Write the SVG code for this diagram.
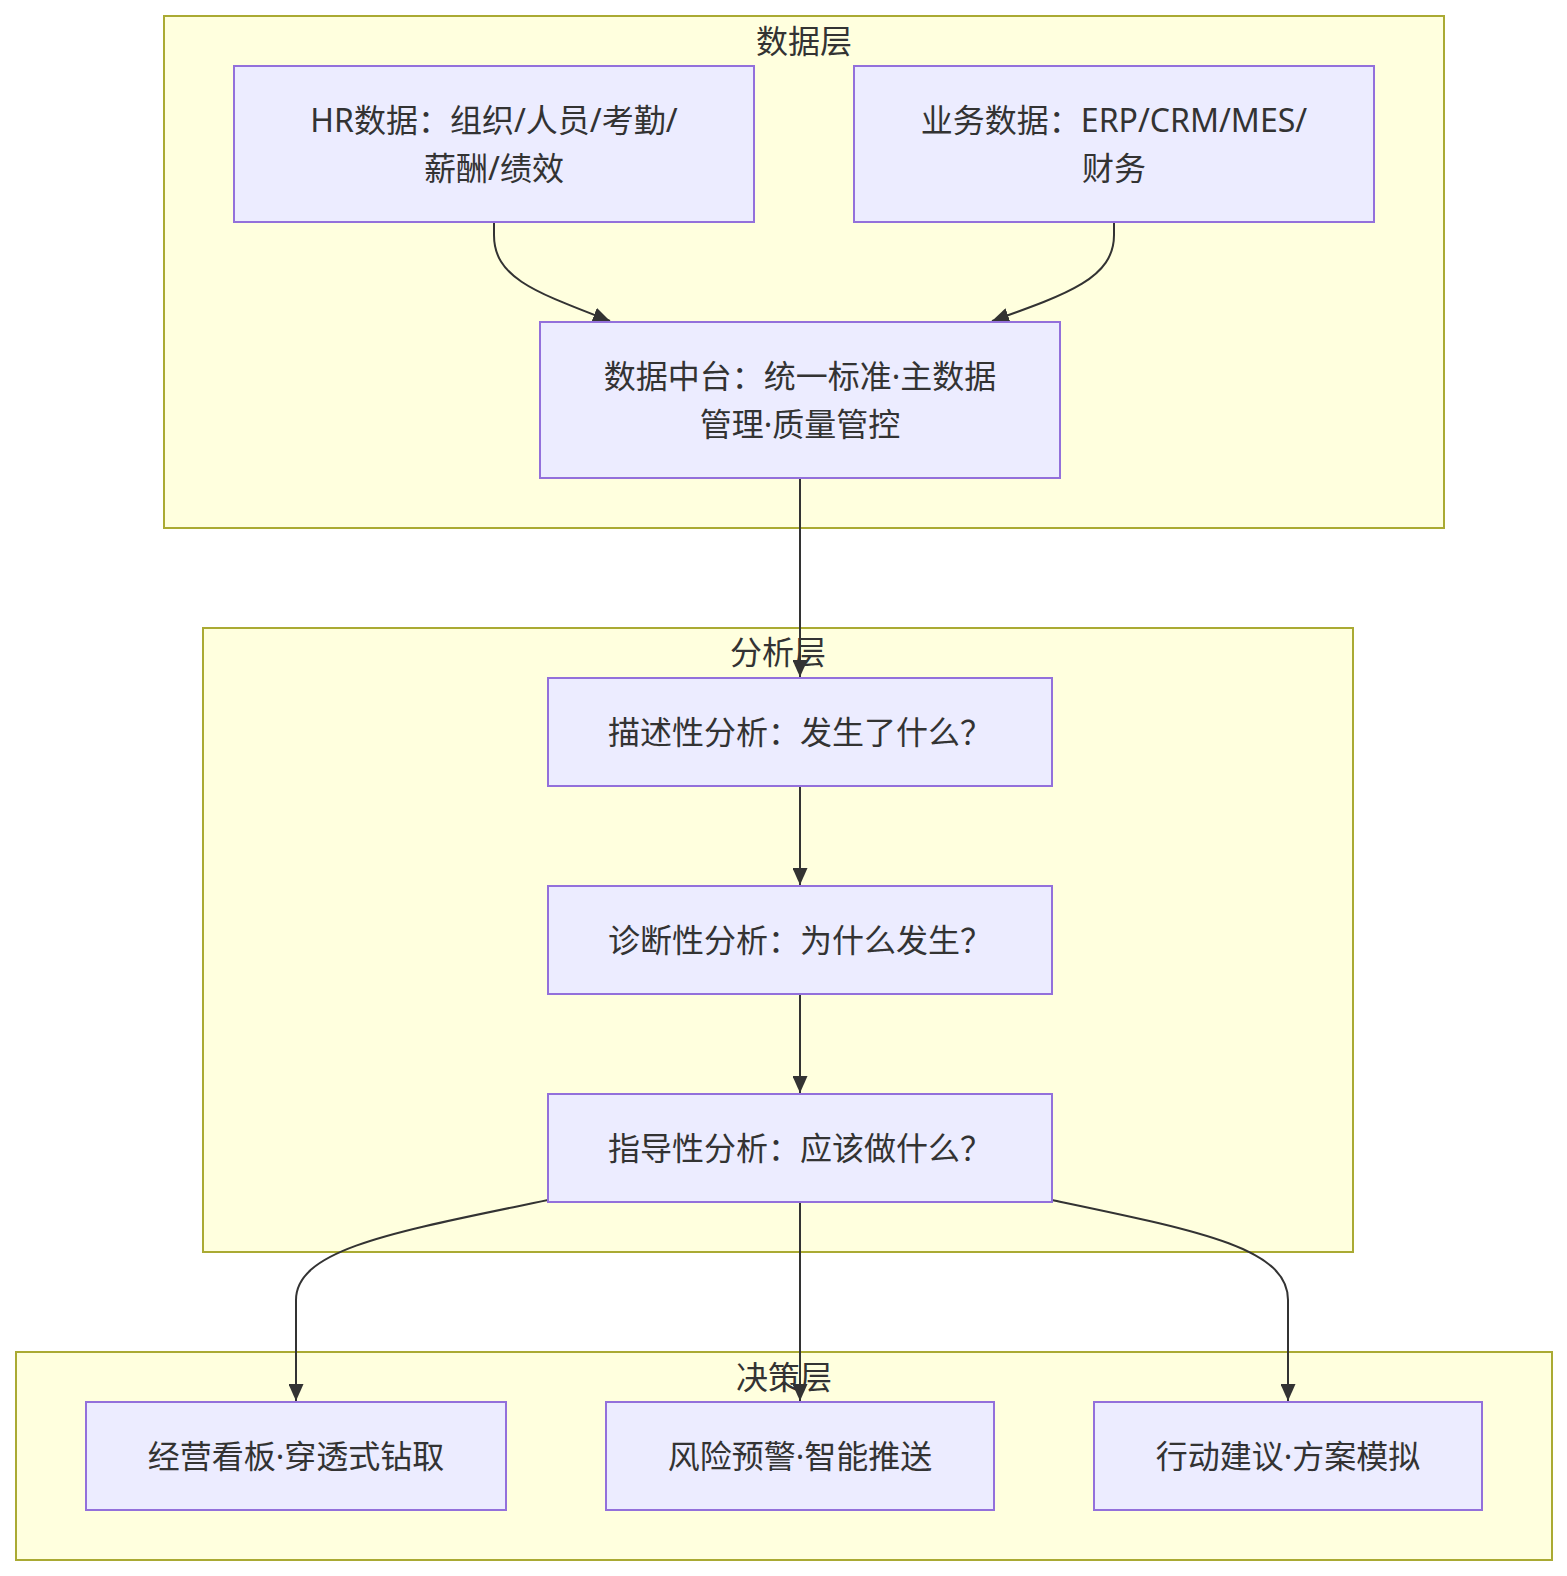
<svg xmlns="http://www.w3.org/2000/svg" width="1567" height="1576" viewBox="0 0 1567 1576">
<style>
.cluster{fill:#ffffde;stroke:#aaaa33;stroke-width:2}
.node rect{fill:#ececff;stroke:#9370db;stroke-width:2}
text{font-family:"Noto Sans","Noto Sans CJK SC",sans-serif;font-size:32px;fill:#333333;text-anchor:middle}
.edge{fill:none;stroke:#333333;stroke-width:2}
</style>
<defs>
<marker id="arr" markerUnits="userSpaceOnUse" markerWidth="17" markerHeight="15" viewBox="0 0 17 15" refX="17" refY="7.5" orient="auto">
<path d="M0,0 L17,7.5 L0,15 z" fill="#333333"/>
</marker>
</defs>
<rect width="1567" height="1576" fill="#ffffff"/>
<g id="cluster-data">
<rect class="cluster" x="164" y="16" width="1280" height="512"/>
<text x="804" y="53">数据层</text>
</g>
<g id="cluster-analysis">
<rect class="cluster" x="203" y="628" width="1150" height="624"/>
<text x="778" y="664">分析层</text>
</g>
<g id="cluster-decision">
<rect class="cluster" x="16" y="1352" width="1536" height="208"/>
<text x="784" y="1389">决策层</text>
</g>
<g id="edges">
<path class="edge" d="M494,222 L494,235 C494,278 535,292 610,321" marker-end="url(#arr)"/>
<path class="edge" d="M1114,222 L1114,235 C1114,278 1068,294 992,321" marker-end="url(#arr)"/>
<path class="edge" d="M800,478 L800,677" marker-end="url(#arr)"/>
<path class="edge" d="M800,786 L800,885" marker-end="url(#arr)"/>
<path class="edge" d="M800,994 L800,1093" marker-end="url(#arr)"/>
<path class="edge" d="M548,1200 C400,1231 296,1248 296,1300 L296,1401" marker-end="url(#arr)"/>
<path class="edge" d="M800,1202 L800,1401" marker-end="url(#arr)"/>
<path class="edge" d="M1052,1200 C1200,1231 1288,1248 1288,1300 L1288,1401" marker-end="url(#arr)"/>
</g>
<g id="node-hr" class="node">
<rect x="234" y="66" width="520" height="156"/>
<text x="494" y="132">HR数据：组织/人员/考勤/</text>
<text x="494" y="180">薪酬/绩效</text>
</g>
<g id="node-biz" class="node">
<rect x="854" y="66" width="520" height="156"/>
<text x="1114" y="132">业务数据：ERP/CRM/MES/</text>
<text x="1114" y="180">财务</text>
</g>
<g id="node-platform" class="node">
<rect x="540" y="322" width="520" height="156"/>
<text x="800" y="388">数据中台：统一标准·主数据</text>
<text x="800" y="436">管理·质量管控</text>
</g>
<g id="node-descriptive" class="node">
<rect x="548" y="678" width="504" height="108"/>
<text x="800" y="744">描述性分析：发生了什么？</text>
</g>
<g id="node-diagnostic" class="node">
<rect x="548" y="886" width="504" height="108"/>
<text x="800" y="952">诊断性分析：为什么发生？</text>
</g>
<g id="node-prescriptive" class="node">
<rect x="548" y="1094" width="504" height="108"/>
<text x="800" y="1160">指导性分析：应该做什么？</text>
</g>
<g id="node-dashboard" class="node">
<rect x="86" y="1402" width="420" height="108"/>
<text x="296" y="1468">经营看板·穿透式钻取</text>
</g>
<g id="node-alert" class="node">
<rect x="606" y="1402" width="388" height="108"/>
<text x="800" y="1468">风险预警·智能推送</text>
</g>
<g id="node-action" class="node">
<rect x="1094" y="1402" width="388" height="108"/>
<text x="1288" y="1468">行动建议·方案模拟</text>
</g>
</svg>
